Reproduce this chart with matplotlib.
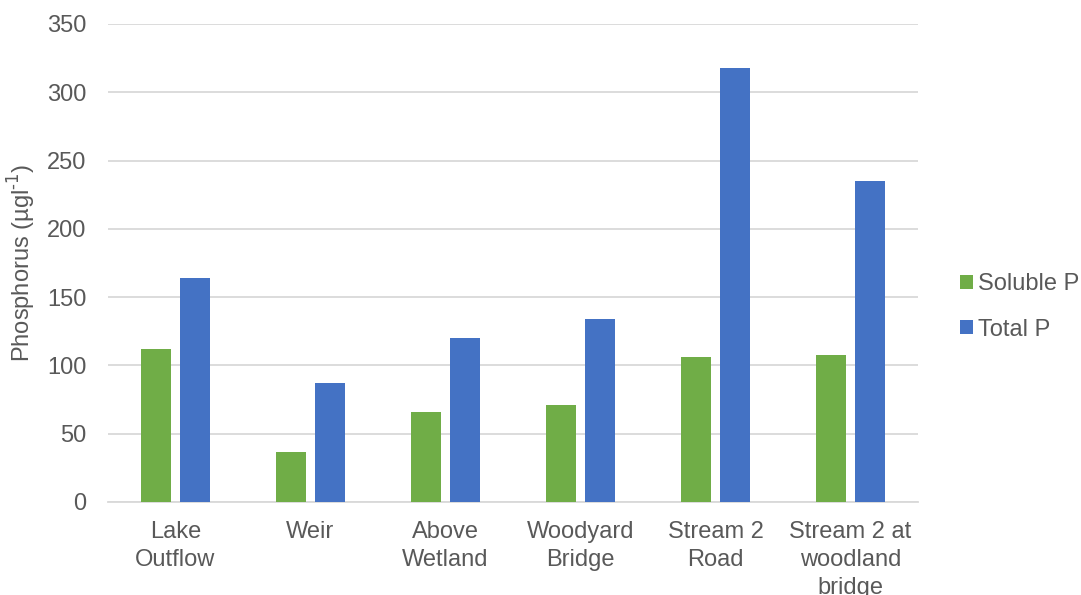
import matplotlib
matplotlib.use("Agg")
import matplotlib.pyplot as plt
from matplotlib.patches import Patch
import numpy as np

sites = ["Lake\nOutflow", "Weir", "Above\nWetland", "Woodyard\nBridge",
         "Stream 2\nRoad", "Stream 2 at\nwoodland\nbridge"]
soluble_p = [112.3, 36.4, 66.0, 70.9, 106.0, 107.5]
total_p = [164.3, 86.8, 120.1, 134.1, 317.6, 234.8]
series_names = ["Soluble P", "Total P"]
y_ticks = [0, 50, 100, 150, 200, 250, 300, 350]

GREEN = "#70AD47"
BLUE = "#4472C4"
TEXT = "#595959"
GRID = "#D9D9D9"
FS = 17

plt.rcParams["font.family"] = ["Liberation Sans", "DejaVu Sans"]

fig = plt.figure(figsize=(10.81, 5.95), dpi=100)
ax = fig.add_axes([108 / 1081, 1 - 502 / 595, 810 / 1081, 478 / 595])

x = np.arange(len(sites))
width = 0.222
offset = 0.141
ax.bar(x - offset, soluble_p, width, color=GREEN, zorder=3)
ax.bar(x + offset, total_p, width, color=BLUE, zorder=3)

ax.set_xlim(-0.5, len(sites) - 0.5)
ax.set_ylim(0, 350)
ax.set_yticks(y_ticks)
ax.set_xticks(x)
ax.set_xticklabels(sites, linespacing=1.33)

ax.yaxis.grid(True, color=GRID, linewidth=1.3, zorder=0)
ax.set_axisbelow(True)
for side in ["top", "right", "left"]:
    ax.spines[side].set_visible(False)
ax.spines["bottom"].set_color(GRID)
ax.spines["bottom"].set_linewidth(1.3)

ax.tick_params(axis="both", length=0, labelsize=FS, labelcolor=TEXT)
ax.tick_params(axis="y", pad=15.4)
ax.tick_params(axis="x", pad=14)

ax.set_ylabel(r"Phosphorus (µgl$^{\text{-1}}$)", fontsize=FS, color=TEXT)
ax.yaxis.set_label_coords(-0.0864, 0.5)

handles = [Patch(facecolor=GREEN), Patch(facecolor=BLUE)]
fig.legend(handles, series_names, loc="center left",
           bbox_to_anchor=(960 / 1081, 1 - 307 / 595), frameon=False,
           fontsize=FS, labelcolor=TEXT, handlelength=0.54, handleheight=0.54,
           handletextpad=0.24, labelspacing=1.0, borderpad=0, borderaxespad=0)

fig.savefig("out.png", dpi=100)
